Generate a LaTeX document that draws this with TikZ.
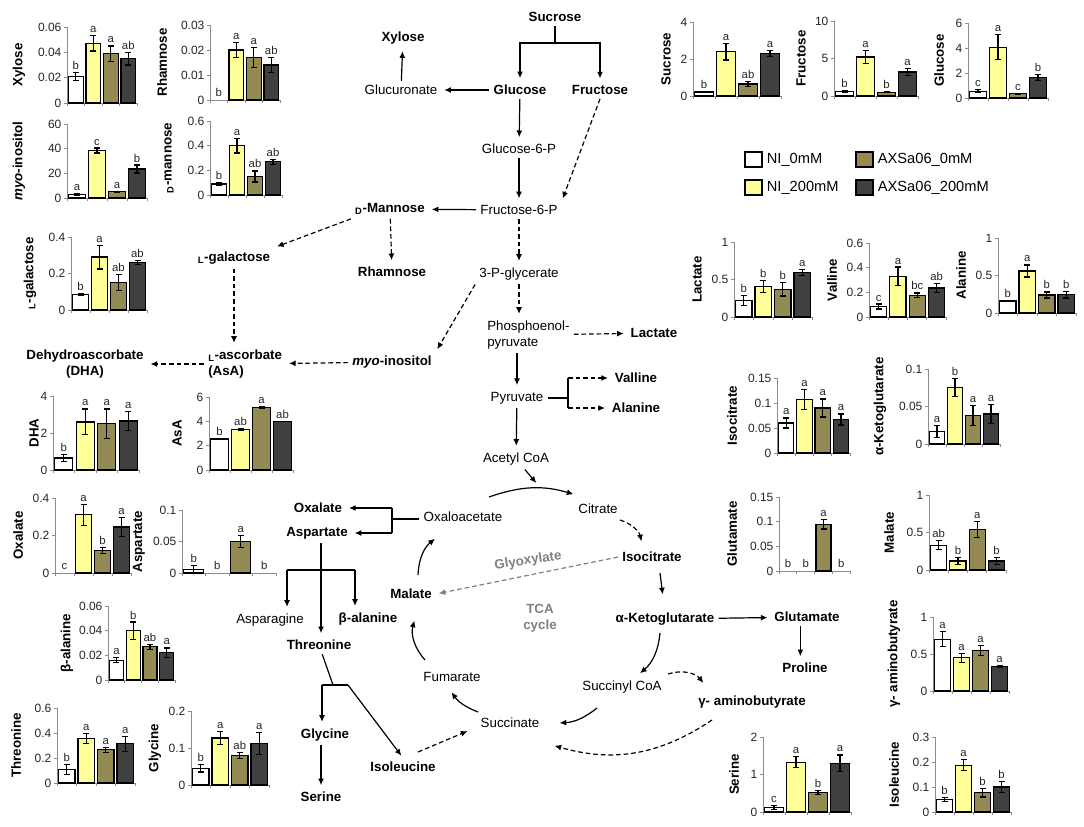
\documentclass[tikz,border=0pt]{standalone}
\usepackage{fontspec}
\setmainfont{Liberation Sans}
\usetikzlibrary{arrows.meta,positioning}

\definecolor{bar1}{HTML}{FFFFFF}
\definecolor{bar2}{HTML}{FFFF99}
\definecolor{bar3}{HTML}{948A54}
\definecolor{bar4}{HTML}{404040}
\definecolor{axisgray}{HTML}{8C8C8C}
\definecolor{tcagray}{HTML}{808080}

\tikzset{
  met/.style={inner sep=3pt, font=\fontsize{10}{12}\selectfont},
  metb/.style={inner sep=3pt, font=\fontsize{10}{12}\selectfont\bfseries},
  ln/.style={line width=0.9pt},
  arr/.style={ln, -{Latex[length=5pt,width=4.5pt]}, shorten >=2pt},
  dsh/.style={arr, dash pattern=on 3.5pt off 2.2pt},
  chartaxis/.style={draw=axisgray, line width=0.7pt},
  bar/.style={draw=black, line width=0.9pt},
  errbar/.style={draw=black, line width=0.9pt},
  ticklabel/.style={anchor=east, inner sep=1pt, font=\fontsize{9}{10}\selectfont, text=black!85},
  letter/.style={anchor=south, inner sep=0.5pt, font=\fontsize{8.5}{10}\selectfont, text=black!85},
  charttitle/.style={rotate=90, inner sep=0pt, font=\fontsize{10}{12}\selectfont\bfseries},
  legbox/.style={draw=black, line width=0.9pt, minimum width=12.75pt, minimum height=11.25pt, inner sep=0pt},
  legtext/.style={inner sep=1pt, font=\fontsize{11}{13}\selectfont}
}

% #1 axis origin, #2 slot width, #3 y max, #4 axis height, #5 ticks, #6 bars, #7 title offset, #8 title
\newcommand{\barchart}[8]{%
  \begin{scope}[shift={(#1)}]
    \draw[chartaxis] (0,-#4) -- (0,0) -- ({4*#2},0);
    \foreach \t in {0,...,4} \draw[chartaxis] ({\t*#2},0) -- ++(0,3);
    \foreach \v/\l in {#5} {
      \draw[chartaxis] (0,{-\v/#3*#4}) -- ++(-3,0);
      \node[ticklabel] at (-4,{-\v/#3*#4}) {\l};}
    \foreach \v/\e/\l [count=\i] in {#6} {
      \pgfmathsetmacro{\xc}{(\i-0.5)*#2}
      \pgfmathsetmacro{\yt}{-\v/#3*#4}
      \pgfmathsetmacro{\ye}{-(\v+\e)/#3*#4}
      \pgfmathsetmacro{\yb}{-(\v-\e)/#3*#4}
      \ifdim\v pt>0pt \draw[bar, fill=bar\i] ({\xc-0.42*#2},0) rectangle ({\xc+0.42*#2},\yt); \fi
      \ifdim\e pt>0pt \draw[errbar] (\xc,\yb) -- (\xc,\ye) (\xc-3,\yb) -- (\xc+3,\yb) (\xc-3,\ye) -- (\xc+3,\ye); \fi
      \node[letter] at (\xc,\ye-2) {\l};}
    \node[charttitle] at (#7,{-#4/2}) {#8};
  \end{scope}}

\begin{document}
\begin{tikzpicture}[x=0.75pt,y=-0.75pt]
\useasboundingbox (0,0) rectangle (1084,826);

% charts, left side
\barchart{67,103}{17.5}{0.06}{76}{0/0,0.02/0.02,0.04/0.04,0.06/0.06}{0.021/0.003/b,0.047/0.006/a,0.039/0.006/a,0.035/0.005/ab}{-48}{Xylose}
\barchart{210,100}{17.5}{0.03}{75}{0/0,0.01/0.01,0.02/0.02,0.03/0.03}{0/0/b,0.020/0.003/a,0.017/0.004/a,0.014/0.003/ab}{-48}{Rhamnose}
\barchart{67,198}{20}{60}{74}{0/0,20/20,40/40,60/60}{3/0.6/a,38.5/2/c,5/0.6/a,23.5/3.2/b}{-48}{\textit{myo}-inositol}
\barchart{210,195}{18}{0.6}{74}{0/0,0.2/0.2,0.4/0.4,0.6/0.6}{0.09/0.01/b,0.40/0.06/a,0.15/0.045/ab,0.27/0.02/ab}{-41}{\textsubscript{D}-mannose}
\barchart{71,310}{19}{0.4}{73}{0/0,0.2/0.2,0.4/0.4}{0.085/0.006/b,0.29/0.065/a,0.15/0.045/ab,0.26/0.012/ab}{-41}{\textsubscript{L}-galactose}
\barchart{53,470}{21.5}{4}{74}{0/0,2/2,4/4}{0.65/0.17/b,2.6/0.7/a,2.5/0.8/a,2.65/0.5/a}{-19}{DHA}
\barchart{209,470}{21}{6}{73}{0/0,2/2,4/4,6/6}{2.55/0.03/b,3.35/0.08/ab,5.15/0.05/a,4.0/0/ab}{-32}{AsA}
\barchart{55,573}{19}{0.4}{75}{0/0,0.2/0.2,0.4/0.4}{0/0/c,0.31/0.055/a,0.12/0.015/b,0.245/0.05/a}{-37}{Oxalate}
\barchart{182,573}{23.5}{0.1}{63}{0/0,0.05/0.05,0.1/0.1}{0.006/0.006/b,0/0/b,0.05/0.01/a,0/0/b}{-43}{Aspartate}
\barchart{108,680}{16.8}{0.06}{74}{0/0,0.02/0.02,0.04/0.04,0.06/0.06}{0.016/0.002/a,0.040/0.007/b,0.027/0.002/ab,0.022/0.004/a}{-41}{β-alanine}
\barchart{57,783}{19.5}{0.6}{75}{0/0,0.2/0.2,0.4/0.4,0.6/0.6}{0.11/0.04/b,0.355/0.04/a,0.265/0.02/a,0.315/0.06/a}{-41}{Threonine}
\barchart{191,785}{19.5}{0.2}{74}{0/0,0.1/0.1,0.2/0.2}{0.045/0.01/b,0.127/0.017/a,0.08/0.008/ab,0.113/0.03/a}{-36}{Glycine}

% charts, right side
\barchart{693,96}{22}{4}{74}{0/0,2/2,4/4}{0.22/0.03/b,2.4/0.45/a,0.65/0.15/ab,2.3/0.18/a}{-27}{Sucrose}
\barchart{834,96}{21}{10}{75}{0/0,5/5,10/10}{0.6/0.1/b,5.2/0.9/a,0.5/0.05/b,3.2/0.5/a}{-33}{Fructose}
\barchart{968,98}{20}{6}{75}{0/0,2/2,4/4,6/6}{0.55/0.1/c,4.05/1.0/a,0.35/0.03/c,1.65/0.25/b}{-29}{Glucose}
\barchart{734,317}{19.5}{1}{75}{0/0,0.5/0.5,1/1}{0.22/0.07/b,0.41/0.08/b,0.37/0.09/b,0.59/0.04/a}{-37}{Lactate}
\barchart{869,317}{19.3}{0.6}{74}{0/0,0.2/0.2,0.4/0.4,0.6/0.6}{0.085/0.02/c,0.33/0.075/a,0.175/0.02/bc,0.235/0.035/ab}{-37}{Valline}
\barchart{998,313}{19.5}{1}{75}{0/0,0.5/0.5,1/1}{0.16/0.01/b,0.56/0.08/a,0.24/0.04/b,0.245/0.045/b}{-37}{Alanine}
\barchart{777,453}{18.3}{0.15}{75}{0/0,0.05/0.05,0.1/0.1,0.15/0.15}{0.06/0.01/a,0.107/0.02/a,0.09/0.018/a,0.067/0.011/a}{-45}{Isocitrate}
\barchart{928,444}{18}{0.1}{75}{0/0,0.05/0.05,0.1/0.1}{0.017/0.008/a,0.075/0.012/b,0.038/0.013/a,0.04/0.013/a}{-48}{α-Ketoglutarate}
\barchart{779,571}{17.8}{0.15}{74}{0/0,0.05/0.05,0.1/0.1,0.15/0.15}{0/0/b,0/0/b,0.095/0.01/a,0/0/b}{-47}{Glutamate}
\barchart{929,570}{19.3}{1}{75}{0/0,0.5/0.5,1/1}{0.33/0.06/ab,0.12/0.05/b,0.54/0.11/a,0.12/0.05/b}{-40}{Malate}
\barchart{933,691}{19}{1}{74}{0/0,0.5/0.5,1/1}{0.7/0.1/a,0.45/0.06/a,0.55/0.07/a,0.33/0.01/a}{-39}{γ- aminobutyrate}
\barchart{763,812}{22}{2}{75}{0/0,1/1,2/2}{0.12/0.06/c,1.33/0.15/a,0.52/0.05/b,1.3/0.22/a}{-29}{Serine}
\barchart{935,812}{19}{0.3}{75}{0/0,0.1/0.1,0.2/0.2,0.3/0.3}{0.05/0.008/b,0.187/0.022/a,0.077/0.017/b,0.1/0.022/b}{-41}{Isoleucine}

% legend
\node[legbox, fill=bar1] (leg1) at (753.5,159.5) {};
\node[legtext, right=2pt of leg1] (leg1t) {NI\_0mM};
\node[legbox, fill=bar3] (leg3) at (864.5,159.5) {};
\node[legtext, right=2pt of leg3] (leg3t) {AXSa06\_0mM};
\node[legbox, fill=bar2] (leg2) at (753.5,187.5) {};
\node[legtext, right=2pt of leg2] (leg2t) {NI\_200mM};
\node[legbox, fill=bar4] (leg4) at (864.5,187.5) {};
\node[legtext, right=2pt of leg4] (leg4t) {AXSa06\_200mM};

% pathway
\node[metb] (sucrose) at (555,17) {Sucrose};
\node[metb] (xylose) at (403,38) {Xylose};
\node[met] (glucuronate) at (401,90) {Glucuronate};
\node[metb] (glucose) at (520,90) {Glucose};
\node[metb] (fructose) at (600,90) {Fructose};
\node[met] (g6p) at (519,149) {Glucose-6-P};
\node[met] (f6p) at (519,210) {Fructose-6-P};
\node[metb] (mannose) at (390,209) {\textsubscript{D}-Mannose};
\node[metb] (rhamnose) at (392,272) {Rhamnose};
\node[met] (pg3) at (519,274) {3-P-glycerate};
\node[metb] (galactose) at (234,258) {\textsubscript{L}-galactose};
\node[metb, align=left, anchor=west] (ascorbate) at (204,364) {\textsubscript{L}-ascorbate\\(AsA)};
\node[metb, align=center] (dha) at (85,364) {Dehydroascorbate\\(DHA)};
\node[metb] (inositol) at (392,362) {\textit{myo}-inositol};
\node[met, align=left, anchor=west] (pep) at (483,335) {Phosphoenol-\\pyruvate};
\node[metb] (lactate) at (654,333) {Lactate};
\node[met] (pyruvate) at (517,398) {Pyruvate};
\node[metb] (valline) at (636,378) {Valline};
\node[metb] (alanine) at (636,408) {Alanine};
\node[met] (acetyl) at (516,459) {Acetyl CoA};
\node[met] (citrate) at (598,509) {Citrate};
\node[met] (oxalo) at (463,517) {Oxaloacetate};
\node[metb] (oxalate) at (318,508) {Oxalate};
\node[metb] (aspartate) at (317,533) {Aspartate};
\node[met] (asparagine) at (270,620) {Asparagine};
\node[metb] (balanine) at (368,619) {β-alanine};
\node[metb] (threonine) at (319,645) {Threonine};
\node[metb] (glycine) at (325,735) {Glycine};
\node[metb] (serine) at (321,797) {Serine};
\node[metb] (isoleucine) at (403,767) {Isoleucine};
\node[met] (succinate) at (510,723) {Succinate};
\node[met] (fumarate) at (452,677) {Fumarate};
\node[metb] (malate) at (411,594) {Malate};
\node[metb, text=tcagray, rotate=8] (glyoxylate) at (528,561) {Glyoxylate};
\node[metb, text=tcagray, align=center] (tca) at (540,618) {TCA\\cycle};
\node[metb] (isocitrate) at (652,557) {Isocitrate};
\node[metb] (akg) at (665,619) {α-Ketoglutarate};
\node[metb] (glutamate) at (807,617) {Glutamate};
\node[metb] (proline) at (805,668) {Proline};
\node[met] (succoa) at (622,687) {Succinyl CoA};
\node[metb] (gaba) at (752,702) {γ- aminobutyrate};

\coordinate (sj) at (555,43);
\draw[ln] (sucrose) -- (sj);
\draw[arr] (sj) -| (glucose);
\draw[arr] (sj) -| (fructose);
\draw[arr] (glucose) -- (glucuronate);
\draw[arr] (glucuronate) -- (xylose);
\draw[arr] (glucose) -- (g6p);
\draw[arr] (g6p) -- (f6p);
\draw[dsh] (fructose.south) -- (f6p.north east);
\draw[arr] (f6p) -- (mannose);
\draw[dsh] (mannose) -- (rhamnose);
\draw[dsh] (f6p) -- (pg3);
\draw[dsh] (mannose.south west) -- (galactose.north east);
\draw[dsh] (galactose) -- (galactose |- ascorbate.north);
\draw[dsh] (ascorbate) -- (dha);
\draw[dsh] (inositol) -- (ascorbate);
\draw[dsh] (pg3.south west) -- (inositol.north east);
\draw[dsh] (pg3) -- (pg3 |- pep.north);
\draw[dsh] (pep) -- (lactate);
\draw[arr] (pyruvate |- pep.south) -- (pyruvate);
\coordinate (pj) at (568,398);
\draw[ln] (pyruvate) -- (pj);
\draw[ln] (pj |- valline) -- (pj |- alanine);
\draw[dsh] (pj |- valline) -- (valline);
\draw[dsh] (pj |- alanine) -- (alanine);
\draw[arr] (pyruvate) -- (acetyl);
\coordinate (tcain) at (538,485);
\draw[arr] (acetyl) -- (tcain);

\draw[arr] ([shift={(26,-20)}]oxalo.center) to[bend left=18] ([shift={(-22,-14)}]citrate.center);
\draw[dsh] ([shift={(22,11)}]citrate.center) to[bend left=30] ([shift={(-10,-13)}]isocitrate.center);
\draw[arr] ([shift={(8,16)}]isocitrate.center) -- ([shift={(-2,-22)}]akg.center);
\draw[arr] ([shift={(-5,14)}]akg.center) to[bend left=22] ([shift={(16,-12)}]succoa.center);
\draw[arr] ([shift={(-25,21)}]succoa.center) to[bend left=18] ([shift={(47,0)}]succinate.center);
\draw[arr] ([shift={(-32,-11)}]succinate.center) to[bend left=17] ([shift={(-2,13)}]fumarate.center);
\draw[arr] ([shift={(-27,-17)}]fumarate.center) to[bend left=28] ([shift={(4,24)}]malate.center);
\draw[arr] ([shift={(7,-19)}]malate.center) to[bend left=24] ([shift={(-26,20)}]oxalo.center);
\draw[dsh, tcagray] (isocitrate.west) -- (malate.east);
\draw[dsh] ([shift={(46,-13)}]succoa.center) to[bend left=35] ([shift={(-47,-17)}]gaba.center);
\draw[dsh] ([shift={(-40,18)}]gaba.center) to[bend left=25] ([shift={(42,22)}]succinate.center);
\draw[dsh] ([shift={(15,-15)}]isoleucine.center) -- ([shift={(-40,7)}]succinate.center);

\coordinate (oj) at (392,519);
\draw[ln] (oxalo.west |- oj) -- (oj);
\draw[ln] (oj |- oxalate) -- (oj |- aspartate);
\draw[arr] (oj |- oxalate) -- (oxalate);
\draw[arr] (oj |- aspartate) -- (aspartate);

\coordinate (am) at (321,570);
\coordinate (al) at (287,570);
\coordinate (ar) at (355,570);
\draw[arr] (am |- aspartate.south) -- (am |- threonine.north);
\draw[ln] (al) -- (ar);
\draw[arr] (al) -- (al |- asparagine.north);
\draw[arr] (ar) -- (ar |- balanine.north);

\coordinate (tm) at (333,685);
\coordinate (tl) at (322,685);
\coordinate (tr) at (348,685);
\draw[ln] (threonine) -- (tm);
\draw[ln] (tl) -- (tr);
\draw[arr] (tl) -- (tl |- glycine.north);
\draw[arr] (tr) -- (isoleucine.north);
\draw[arr] (serine |- glycine.south) -- (serine);

\draw[arr] (akg) -- (glutamate);
\coordinate (gp) at ([xshift=-5pt]glutamate.south);
\draw[arr] (gp) -- (gp |- proline.north);
\end{tikzpicture}
\end{document}
